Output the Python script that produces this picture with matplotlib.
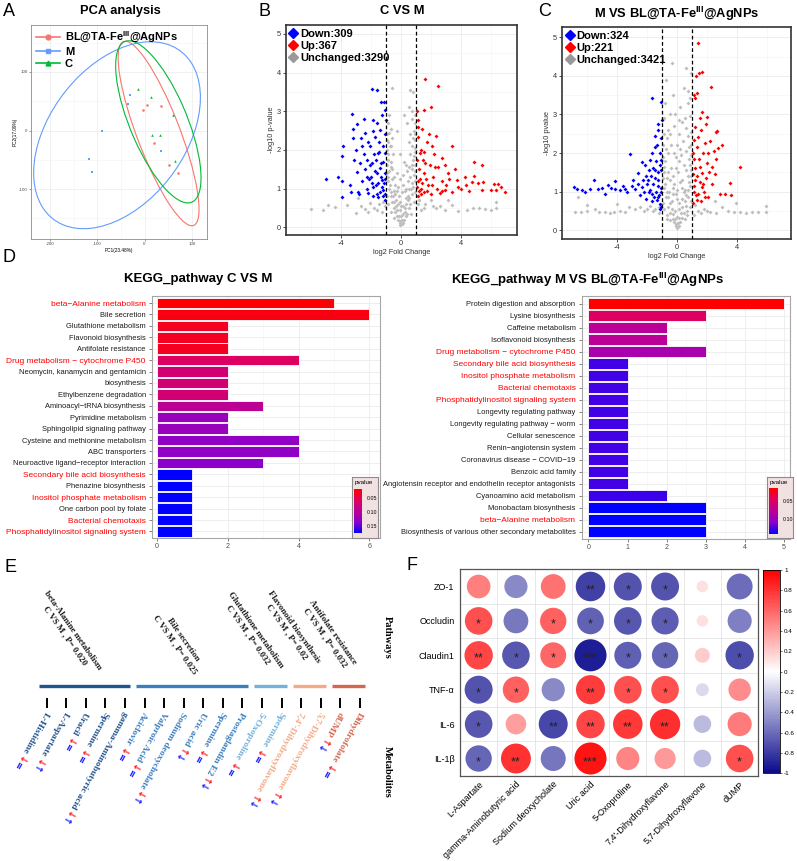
import numpy as np
import matplotlib
matplotlib.use('Agg')
import matplotlib.pyplot as plt
from matplotlib.colors import LinearSegmentedColormap, Normalize
from matplotlib.lines import Line2D
from matplotlib.patches import Ellipse
from matplotlib.ticker import FormatStrFormatter
import matplotlib.cm as cm

plt.rcParams['font.family'] = ['Liberation Sans', 'DejaVu Sans']
plt.rcParams['mathtext.fontset'] = 'custom'
plt.rcParams['mathtext.bf'] = 'Liberation Sans:bold'
plt.rcParams['mathtext.rm'] = 'Liberation Sans'
plt.rcParams['axes.unicode_minus'] = False

# ---------------- A: PCA ----------------
pca_groups = [r'BL@TA-Fe$^{\mathbf{III}}$@AgNPs', 'M', 'C']
pca_x = [[5, -4, 34, 20, 52, 71],
         [-30, -34, -90, -118, -111, 34],
         [-13, 14, 61, 15, 33, 65]]
pca_y = [[44, 35, 42, -21, -58, -72],
         [61, 46, 0, -49, -71, -35],
         [71, 58, 27, -8, -7, -52]]

# ---------------- B / C: volcano ----------------
b_blue = [(-4.98, 1.24), (-4.22, 1.31), (-3.96, 1.20), (-3.96, 0.79), (-3.89, 2.10), (-3.91, 1.83),
          (-3.29, 2.93), (-3.22, 2.54), (-2.96, 2.67), (-3.18, 2.30), (-3.11, 1.74), (-2.96, 1.44),
          (-3.31, 0.91), (-2.84, 0.92), (-2.44, 2.81), (-2.40, 2.43), (-1.96, 3.58), (-1.62, 3.55),
          (-1.33, 3.25), (-1.13, 3.25), (-1.07, 3.03), (-1.00, 2.78), (-1.84, 2.78), (-1.73, 2.34),
          (-2.07, 2.09), (-1.51, 1.91), (-1.96, 1.66), (-2.29, 1.31), (-1.62, 1.40), (-1.29, 1.22),
          (-1.84, 1.05), (-1.18, 0.97), (-1.51, 0.79), (-1.07, 0.71), (-2.18, 0.88), (-2.73, 1.66),
          (-2.62, 2.09), (-1.40, 2.52), (-1.07, 1.91), (-1.40, 1.53), (-2.50, 1.90), (-2.20, 2.20),
          (-1.90, 2.50), (-1.60, 2.70), (-1.20, 2.10), (-2.60, 1.20), (-2.30, 1.00), (-2.00, 1.30),
          (-1.70, 1.10), (-1.40, 0.90), (-1.10, 1.40), (-1.20, 1.70), (-1.50, 2.20), (-1.80, 1.90),
          (-2.10, 1.60), (-2.40, 1.50), (-2.70, 2.30), (-3.00, 2.00), (-1.30, 2.90), (-1.10, 2.40),
          (-1.25, 1.05), (-1.60, 0.85), (-1.90, 0.80), (-2.80, 0.85), (-3.40, 1.10), (-1.15, 1.15),
          (-1.35, 1.30), (-1.55, 1.15), (-1.75, 1.45), (-2.25, 1.75), (-1.05, 0.85), (-1.45, 1.95),
          (-1.20, 0.80), (-1.35, 1.65), (-1.65, 1.75), (-1.95, 1.15), (-2.15, 1.25), (-1.05, 1.25)]
b_red = [(1.60, 3.83), (2.44, 3.64), (1.04, 3.00), (1.56, 3.03), (1.98, 3.10), (1.10, 2.78),
         (1.40, 2.55), (1.16, 2.34), (1.27, 1.91), (1.60, 1.66), (2.04, 2.09), (2.71, 1.78),
         (3.38, 2.09), (2.49, 1.57), (3.16, 1.40), (3.71, 1.22), (3.82, 1.05), (2.93, 0.97),
         (4.87, 1.68), (5.38, 1.61), (4.27, 1.31), (4.89, 1.33), (4.76, 1.16), (5.11, 1.14),
         (5.49, 1.16), (4.31, 1.09), (6.22, 1.11), (6.49, 1.11), (6.67, 1.05), (6.93, 0.92),
         (6.33, 0.97), (6.00, 0.97), (5.38, 0.97), (4.50, 0.95), (1.10, 1.20), (1.30, 1.00),
         (1.50, 0.90), (1.80, 1.10), (2.10, 1.30), (2.40, 1.00), (2.70, 1.20), (3.00, 1.10),
         (3.40, 0.90), (1.20, 1.50), (1.50, 1.40), (1.90, 1.60), (2.20, 1.90), (1.70, 2.20),
         (1.30, 2.00), (1.05, 1.75), (2.00, 0.85), (2.60, 0.88), (3.60, 1.50), (4.00, 1.00),
         (1.15, 0.80), (1.45, 1.75), (1.85, 2.40), (2.90, 1.60), (2.30, 2.35), (1.10, 2.60),
         (1.25, 1.25), (1.65, 1.25), (2.25, 1.55), (1.35, 0.85), (3.20, 1.25), (2.75, 0.95),
         (1.05, 1.05), (1.40, 1.15), (1.75, 0.95), (2.05, 1.10), (1.55, 1.95), (1.20, 0.95)]
b_grey = [(-6.0, 0.47), (-5.2, 0.45), (-4.9, 0.58), (-4.4, 0.52), (-3.6, 0.58), (-3.0, 0.38),
          (-2.7, 0.55), (-2.4, 0.48), (-2.1, 0.62), (-1.8, 0.50), (-1.5, 0.60), (-1.3, 0.40),
          (1.3, 0.45), (1.6, 0.60), (2.0, 0.70), (2.3, 0.50), (2.6, 0.55), (2.9, 0.45),
          (3.4, 0.58), (3.8, 0.43), (4.4, 0.45), (4.8, 0.50), (5.2, 0.49), (5.6, 0.47),
          (6.0, 0.45), (6.3, 0.49), (6.3, 0.66), (-2.9, 0.75), (3.1, 0.70), (-1.1, 0.55),
          (1.1, 0.60), (-0.05, 0.05), (0.05, 0.08), (-0.10, 0.10), (0.10, 0.12), (-0.20, 0.20),
          (0.20, 0.20), (-0.30, 0.30), (0.30, 0.30), (-0.40, 0.40), (0.40, 0.35), (0.00, 0.30),
          (-0.50, 0.50), (0.50, 0.50), (-0.10, 0.45), (0.15, 0.55), (-0.60, 0.65), (0.60, 0.60),
          (-0.35, 0.70), (0.30, 0.75), (-0.70, 0.80), (0.70, 0.85), (-0.50, 0.95), (0.50, 1.00),
          (-0.80, 1.00), (0.80, 1.05), (-0.90, 1.20), (0.90, 1.20), (-0.60, 1.25), (0.60, 1.30),
          (-0.80, 1.45), (0.75, 1.50), (-0.95, 1.60), (0.95, 1.60), (-0.70, 1.70), (0.80, 1.75),
          (-0.90, 1.90), (0.90, 1.95), (-0.75, 2.10), (0.70, 2.10), (-0.95, 2.25), (0.95, 2.25),
          (-0.80, 2.45), (0.85, 2.50), (0.60, 2.40), (-0.60, 2.30), (-0.90, 2.70), (0.40, 2.70),
          (0.20, 2.90), (0.50, 3.10), (0.75, 3.00), (0.80, 3.50), (0.60, 3.55), (-0.58, 3.60),
          (-0.30, 2.50), (-0.10, 1.90), (0.20, 1.70), (-0.25, 1.40), (0.10, 1.10), (-0.15, 0.80),
          (0.25, 0.95), (-0.40, 1.10), (0.40, 1.45), (-0.20, 0.60), (0.25, 0.40), (-0.45, 0.25),
          (0.45, 0.70), (-0.65, 0.40), (0.65, 0.35), (-0.85, 0.60), (0.85, 0.65), (-0.30, 0.95),
          (-0.05, 0.15), (0.05, 0.20), (-0.15, 0.30), (0.15, 0.35), (-0.25, 0.45), (0.25, 0.50),
          (-0.35, 0.55), (0.35, 0.60), (-0.45, 0.65), (0.45, 0.80), (-0.55, 0.80), (0.55, 0.75),
          (-0.65, 0.90), (0.65, 1.00), (-0.75, 1.10), (0.75, 1.15), (-0.85, 1.30), (0.85, 1.35),
          (-0.70, 1.55), (0.70, 1.60), (-0.85, 1.75), (0.85, 1.85), (-0.95, 2.00), (0.95, 2.05),
          (-0.85, 2.20), (0.80, 2.30), (-0.95, 2.40), (0.90, 2.40), (-0.70, 2.55), (0.95, 2.70),
          (0.70, 2.80), (0.90, 2.90), (-0.80, 2.90), (-0.60, 1.50), (0.55, 1.55), (-0.50, 1.30),
          (0.45, 1.20), (-0.40, 0.85), (0.35, 1.00), (-0.05, 0.65), (0.05, 0.90), (0.00, 0.55),
          (-0.55, 1.90), (0.60, 1.90), (-0.65, 2.10), (0.50, 2.20), (-0.95, 1.40), (0.95, 1.45),
          (-0.95, 0.80), (0.95, 0.90), (-1.20, 0.65), (1.20, 0.70), (-1.60, 0.45), (1.50, 0.50),
          (-2.20, 0.40), (2.10, 0.55), (-0.20, 1.05), (0.15, 1.35), (-0.10, 1.25), (0.30, 1.60)]

c_blue = [(-6.87, 1.13), (-6.69, 1.08), (-6.36, 1.04), (-6.13, 0.99), (-5.80, 1.08), (-5.51, 1.30),
          (-5.24, 1.08), (-4.80, 0.95), (-4.58, 1.17), (-4.13, 1.28), (-4.13, 1.08), (-3.80, 1.04),
          (-3.47, 1.08), (-3.36, 0.99), (-3.11, 1.97), (-2.80, 1.08), (-2.91, 1.30), (-2.58, 1.47),
          (-2.31, 1.77), (-2.13, 1.69), (-1.64, 3.42), (-1.07, 3.33), (-1.47, 2.16), (-1.24, 2.60),
          (-1.02, 2.86), (-1.91, 1.30), (-1.69, 0.95), (-1.36, 0.78), (-1.13, 0.69), (-2.36, 1.13),
          (-1.47, 1.56), (-1.80, 1.82), (-1.24, 1.30), (-1.07, 1.82), (-2.20, 1.00), (-2.00, 1.20),
          (-1.80, 1.05), (-1.60, 1.20), (-1.40, 1.00), (-1.20, 0.90), (-1.10, 1.10), (-1.30, 1.50),
          (-1.60, 1.60), (-1.90, 1.55), (-2.10, 1.40), (-1.70, 2.00), (-1.35, 2.20), (-1.10, 2.40),
          (-1.15, 2.00), (-1.50, 2.45), (-1.25, 2.75), (-1.05, 1.55), (-2.60, 1.20), (-3.00, 1.15),
          (-4.40, 1.10), (-5.00, 1.10), (-2.45, 0.90), (-1.55, 0.85), (-1.05, 0.60), (-3.60, 1.15),
          (-1.25, 1.15), (-1.45, 1.35), (-1.75, 1.40), (-2.25, 1.30), (-1.15, 1.70), (-1.65, 0.75),
          (-1.05, 1.00), (-1.30, 0.85), (-1.90, 1.00), (-2.05, 0.80), (-1.15, 0.55), (-1.40, 1.80)]
c_red = [(1.38, 4.85), (1.47, 4.07), (1.64, 4.11), (1.25, 4.00), (2.27, 3.72), (1.16, 3.51),
         (1.20, 3.42), (1.35, 3.55), (1.69, 3.07), (2.00, 2.94), (2.62, 2.55), (2.68, 2.57),
         (2.98, 2.21), (2.76, 2.12), (4.20, 1.65), (2.87, 0.95), (3.20, 0.95), (3.60, 0.91),
         (3.53, 1.21), (2.31, 1.65), (2.09, 1.99), (1.87, 2.25), (1.42, 2.42), (1.20, 2.68),
         (1.09, 1.99), (1.20, 1.30), (1.64, 1.13), (2.09, 0.87), (1.31, 0.78), (1.64, 1.47),
         (1.98, 1.73), (1.10, 1.00), (1.40, 0.95), (1.80, 1.00), (1.50, 1.25), (1.90, 1.35),
         (2.30, 1.20), (1.20, 1.60), (1.45, 1.85), (1.75, 2.00), (2.20, 2.30), (1.30, 2.15),
         (1.60, 2.60), (1.10, 2.35), (2.50, 1.45), (2.60, 1.85), (1.05, 0.70), (1.60, 0.75),
         (1.95, 2.75), (1.50, 2.90), (2.45, 2.05), (1.15, 1.15), (1.35, 1.40), (1.75, 1.20),
         (1.05, 1.45), (1.25, 0.90), (1.85, 0.85), (2.15, 1.50), (1.55, 1.65), (1.15, 1.85)]
c_grey = [(-6.8, 0.47), (-6.4, 0.48), (-6.0, 0.50), (-5.5, 0.55), (-5.2, 0.47), (-4.8, 0.48),
          (-4.5, 0.45), (-4.2, 0.46), (-3.8, 0.50), (-3.5, 0.48), (-3.2, 0.60), (-2.8, 0.55),
          (-2.5, 0.60), (-6.6, 0.85), (-6.0, 0.65), (-4.0, 0.68), (-2.2, 0.50), (-1.8, 0.62),
          (-1.5, 0.55), (1.4, 0.50), (1.8, 0.55), (2.2, 0.48), (2.6, 0.45), (3.0, 0.60),
          (3.4, 0.50), (3.8, 0.47), (4.2, 0.46), (4.6, 0.45), (5.0, 0.47), (5.4, 0.46),
          (5.9, 0.47), (5.9, 0.62), (3.9, 0.70), (2.5, 0.75), (-1.2, 0.45), (1.15, 0.40),
          (0.00, 0.05), (-0.10, 0.12), (0.10, 0.10), (-0.20, 0.20), (0.20, 0.22), (-0.30, 0.30),
          (0.30, 0.32), (0.00, 0.35), (-0.45, 0.45), (0.45, 0.45), (-0.15, 0.50), (0.15, 0.55),
          (-0.60, 0.60), (0.60, 0.62), (-0.35, 0.75), (0.35, 0.80), (-0.75, 0.85), (0.75, 0.85),
          (-0.55, 1.00), (0.50, 1.05), (-0.85, 1.10), (0.85, 1.15), (-0.20, 1.20), (0.20, 1.25),
          (-0.70, 1.35), (0.70, 1.40), (-0.90, 1.50), (0.90, 1.55), (-0.40, 1.60), (0.45, 1.70),
          (-0.80, 1.80), (0.80, 1.85), (-0.60, 2.00), (0.60, 2.05), (-0.95, 2.20), (0.95, 2.20),
          (-0.70, 2.40), (0.75, 2.45), (0.10, 2.50), (-0.20, 2.70), (0.30, 2.80), (-0.90, 2.90),
          (0.85, 2.95), (0.10, 2.86), (-0.50, 3.00), (0.76, 3.29), (0.87, 3.42), (-0.76, 3.90),
          (-0.36, 4.33), (0.58, 4.20), (0.93, 4.07), (0.45, 3.70), (-0.30, 3.50), (-0.05, 1.90),
          (0.05, 1.50), (-0.25, 0.95), (0.25, 1.95), (-0.50, 0.25), (0.50, 0.28), (-0.65, 0.40),
          (0.65, 0.38), (-0.85, 0.55), (0.85, 0.60), (-0.30, 1.40), (0.30, 1.10), (-0.50, 2.50),
          (-0.05, 0.15), (0.05, 0.18), (-0.15, 0.28), (0.15, 0.32), (-0.25, 0.42), (0.25, 0.45),
          (-0.35, 0.55), (0.35, 0.60), (-0.50, 0.70), (0.50, 0.75), (-0.60, 0.85), (0.60, 0.90),
          (-0.70, 1.00), (0.70, 1.05), (-0.80, 1.20), (0.80, 1.25), (-0.95, 1.35), (0.90, 1.40),
          (-0.60, 1.50), (0.60, 1.55), (-0.85, 1.65), (0.85, 1.70), (-0.95, 1.90), (0.95, 1.95),
          (-0.75, 2.10), (0.80, 2.15), (-0.90, 2.50), (0.90, 2.55), (-0.60, 2.60), (0.60, 2.65),
          (-0.40, 2.20), (0.40, 2.30), (-0.20, 2.00), (0.20, 2.10), (0.00, 2.20), (-0.10, 1.60),
          (0.10, 1.80), (-0.30, 1.10), (0.30, 1.30), (0.00, 0.80), (-0.10, 0.95), (0.10, 0.70),
          (-0.45, 1.30), (0.45, 1.00), (-0.95, 0.70), (0.95, 0.75), (-1.20, 0.60), (1.20, 0.65),
          (-1.60, 0.50), (1.60, 0.45), (-2.00, 0.55), (2.00, 0.50), (-0.80, 3.30), (0.70, 3.60),
          (0.20, 3.20), (-0.15, 3.00), (0.50, 2.90), (-0.65, 0.30), (0.65, 0.50), (0.00, 1.05)]
b_counts = ['Down:309', 'Up:367', 'Unchanged:3290']
c_counts = ['Down:324', 'Up:221', 'Unchanged:3421']

# ---------------- D: KEGG ----------------
kegg1_terms = ['beta\u2212Alanine metabolism', 'Bile secretion', 'Glutathione metabolism',
               'Flavonoid biosynthesis', 'Antifolate resistance',
               'Drug metabolism \u2212 cytochrome P450', 'Neomycin, kanamycin and gentamicin',
               'biosynthesis', 'Ethylbenzene degradation', 'Aminoacyl\u2212tRNA biosynthesis',
               'Pyrimidine metabolism', 'Sphingolipid signaling pathway',
               'Cysteine and methionine metabolism', 'ABC transporters',
               'Neuroactive ligand\u2212receptor interaction', 'Secondary bile acid biosynthesis',
               'Phenazine biosynthesis', 'Inositol phosphate metabolism', 'One carbon pool by folate',
               'Bacterial chemotaxis', 'Phosphatidylinositol signaling system']
kegg1_counts = [5, 6, 2, 2, 2, 4, 2, 2, 2, 3, 2, 2, 4, 4, 3, 1, 1, 1, 1, 1, 1]
kegg1_p = [0.020, 0.025, 0.032, 0.032, 0.032, 0.058, 0.072, 0.072, 0.072, 0.095, 0.125,
           0.125, 0.132, 0.132, 0.135, 0.175, 0.175, 0.175, 0.175, 0.175, 0.175]
kegg2_terms = ['Protein digestion and absorption', 'Lysine biosynthesis', 'Caffeine metabolism',
               'Isoflavonoid biosynthesis', 'Drug metabolism \u2212 cytochrome P450',
               'Secondary bile acid biosynthesis', 'Inositol phosphate metabolism',
               'Bacterial chemotaxis', 'Phosphatidylinositol signaling system',
               'Longevity regulating pathway', 'Longevity regulating pathway \u2212 worm',
               'Cellular senescence', 'Renin\u2212angiotensin system',
               'Coronavirus disease \u2212 COVID\u221219', 'Benzoic acid family',
               'Angiotensin receptor and endothelin receptor antagonists',
               'Cyanoamino acid metabolism', 'Monobactam biosynthesis',
               'beta\u2212Alanine metabolism', 'Biosynthesis of various other secondary metabolites']
kegg2_counts = [5, 3, 2, 2, 3, 1, 1, 1, 1, 1, 1, 1, 1, 1, 1, 1, 2, 3, 3, 3]
kegg2_p = [0.015, 0.047, 0.078, 0.078, 0.091, 0.126, 0.126, 0.126, 0.126, 0.126, 0.126,
           0.126, 0.126, 0.126, 0.126, 0.126, 0.128, 0.141, 0.141, 0.141]
kegg_highlight = ['beta\u2212Alanine metabolism', 'Drug metabolism \u2212 cytochrome P450',
                  'Secondary bile acid biosynthesis', 'Inositol phosphate metabolism',
                  'Bacterial chemotaxis', 'Phosphatidylinositol signaling system']

# ---------------- E: pathways / metabolites ----------------
pathways = ['beta-Alanine metabolism', 'Bile secretion', 'Glutathione metabolism',
            'Flavonoid biosynthesis', 'Antifolate resistance']
pathway_p = ['0.020', '0.025', '0.032', '0.02', '0.032']
pathway_span = [(0, 4), (5, 10), (11, 12), (13, 14), (15, 16)]
pathway_colors = ['#23548F', '#3B7FBE', '#74B2DA', '#F4AA88', '#D6674F']
metabolites = ['L-Histidine', 'L-Aspartate', 'Uracil', 'Spermine', 'gamma-Aminobutyric acid',
               'Aciclovir', 'Valproic Acid', 'Sodium deoxycholate', 'Uric acid', 'Spermine',
               'Prostaglandin E2', '5-Oxoproline', 'Spermine', "7,4'-Dihydroxyflavone",
               '5,7-Dihydroxyflavone', 'dUMP', 'Dihydrofolate']
change_cm = ['\u2193', '\u2193', '\u2193', '\u2193', '\u2193', '\u2193', '\u2193', '\u2193', '\u2191',
             '\u2193', '\u2191', '\u2193', '\u2193', '\u2191', '\u2191', '\u2191', '\u2193']
change_mbl = ['=', '\u2191', '=', '=', '\u2191', '=', '=', '\u2191', '\u2193',
              '=', '\u2193', '=', '=', '\u2193', '\u2193', '\u2193', '=']

# ---------------- F: correlation ----------------
markers_f = ['ZO-1', 'Occludin', 'Claudin1', 'TNF-\u03b1', 'IL-6', 'IL-1\u03b2']
metab_f = ['L-Aspartate', 'gamma-Aminobutyric acid', 'Sodium deoxycholate', 'Uric acid',
           '5-Oxoproline', "7,4'-Dihydroxyflavone", '5,7-Dihydroxyflavone', 'dUMP']
corr_vals = [[0.50, -0.48, 0.55, -0.78, -0.70, -0.70, 0.12, -0.60],
             [0.68, -0.55, 0.62, -0.64, -0.68, -0.66, 0.12, -0.52],
             [0.72, -0.68, 0.60, -0.92, -0.65, -0.62, 0.20, -0.72],
             [-0.70, 0.62, -0.48, 0.76, 0.68, 0.68, -0.15, 0.45],
             [-0.68, 0.38, -0.75, 0.72, 0.78, 0.82, -0.28, 0.52],
             [-0.62, 0.80, -0.56, 0.92, 0.48, 0.40, -0.28, 0.68]]
corr_sig = [['', '', '', '**', '*', '*', '', ''],
            ['*', '', '*', '*', '*', '*', '', ''],
            ['**', '*', '*', '***', '*', '*', '', '*'],
            ['*', '*', '', '**', '*', '*', '', ''],
            ['*', '', '**', '**', '**', '**', '', ''],
            ['*', '**', '', '***', '', '', '', '*']]

# =====================================================
W, H = 797.0, 861.0
fig = plt.figure(figsize=(W / 100, H / 100), dpi=100)


def px_axes(l, t, r, b):
    return fig.add_axes([l / W, 1 - b / H, (r - l) / W, (b - t) / H])


def px_text(x, y, s, **kw):
    return fig.text(x / W, 1 - y / H, s, **kw)


for letter, (x, y) in zip('ABCDEF', [(3, 11), (259, 11), (538, 12), (3, 257), (4, 567), (406, 565)]):
    px_text(x, y, letter, fontsize=13, ha='left', va='center')

# ---- A ----
axA = px_axes(31, 25, 207, 239)
pca_colors = ['#F8766D', '#619CFF', '#00BA38']
pca_markers = ['o', 's', '^']
for gx, gy, col, mk in zip(pca_x, pca_y, pca_colors, pca_markers):
    gx, gy = np.array(gx, float), np.array(gy, float)
    axA.scatter(gx, gy, s=3.5, marker=mk, color=col, linewidths=0, zorder=3)
    vals, vecs = np.linalg.eigh(np.cov(gx, gy))
    ang = np.degrees(np.arctan2(vecs[1, 1], vecs[0, 1]))
    axA.add_patch(Ellipse((gx.mean(), gy.mean()), 2 * 3.0 * np.sqrt(vals[1]), 2 * 3.0 * np.sqrt(vals[0]),
                          angle=ang, fill=False, edgecolor=col, lw=0.8, zorder=2))
axA.set_xlim(-240, 132)
axA.set_ylim(-185, 180)
axA.set_xticks([-200, -100, 0, 100])
axA.set_xticks([-150, -50, 50], minor=True)
axA.set_yticks([-100, 0, 100])
axA.set_yticks([-150, -50, 50, 150], minor=True)
axA.grid(which='major', color='#EBEBEB', lw=0.5)
axA.grid(which='minor', color='#F4F4F4', lw=0.4)
axA.set_axisbelow(True)
axA.tick_params(which='minor', length=0)
axA.tick_params(labelsize=3.2, colors='#4D4D4D', length=1.5, width=0.4, pad=1)
for s in axA.spines.values():
    s.set_color('#8C8C8C')
    s.set_linewidth(0.6)
axA.set_xlabel('PC1(23.48%)', fontsize=3.4, labelpad=1)
axA.set_ylabel('PC2(17.09%)', fontsize=3.4, labelpad=1)
hA = [Line2D([], [], color=c, marker=m, ms=3.5, lw=1.2) for c, m in zip(pca_colors, pca_markers)]
axA.legend(hA, pca_groups, loc='upper left', frameon=False, prop={'weight': 'bold', 'size': 8},
           handlelength=2.2, handletextpad=0.4, labelspacing=0.18, borderaxespad=0.15, borderpad=0.3)
px_text(120, 11, 'PCA analysis', fontsize=9.3, fontweight='bold', ha='center', va='center')


# ---- B / C ----
def volcano(ax, grey, blue, red, counts, ylab):
    for pts, col in ((grey, '#BEBEBE'), (blue, '#0000FF'), (red, '#FF0000')):
        pts = np.asarray(pts)
        ax.scatter(pts[:, 0], pts[:, 1], s=4, marker='D', color=col, linewidths=0, zorder=3)
    for v in (-1, 1):
        ax.axvline(v, color='black', ls=(0, (3, 2)), lw=0.9, zorder=4)
    ax.set_xticks([-4, 0, 4])
    ax.set_xticks([-6, -2, 2, 6], minor=True)
    ax.set_yticks(range(6))
    ax.set_yticks(np.arange(0.5, 5.5, 1), minor=True)
    ax.grid(which='major', color='#EBEBEB', lw=0.6)
    ax.grid(which='minor', color='#F4F4F4', lw=0.4)
    ax.set_axisbelow(True)
    ax.tick_params(which='minor', length=0)
    ax.tick_params(labelsize=5.3, colors='#333333', length=2, width=0.6, pad=1.5)
    for s in ax.spines.values():
        s.set_color('#333333')
        s.set_linewidth(1.2)
    ax.set_xlabel('log2 Fold Change', fontsize=5.3, labelpad=1.5, color='#333333')
    ax.set_ylabel(ylab, fontsize=5.3, labelpad=1.5, color='#333333')
    hh = [Line2D([], [], ls='none', marker='D', ms=5, color=c) for c in ('#0000FF', '#FF0000', '#999999')]
    ax.legend(hh, counts, loc='upper left', frameon=False, prop={'weight': 'bold', 'size': 8},
              handlelength=0.7, handletextpad=0.25, labelspacing=0.18, borderaxespad=0.15, borderpad=0.2)


axB = px_axes(285.7, 25, 517, 235)
volcano(axB, b_grey, b_blue, b_red, b_counts, '-log10 p-value')
axB.set_xlim(-7.69, 7.73)
axB.set_ylim(-0.2, 5.23)
px_text(402, 11, 'C VS M', fontsize=9.3, fontweight='bold', ha='center', va='center')

axC = px_axes(562, 27, 791, 239)
volcano(axC, c_grey, c_blue, c_red, c_counts, '-log10 pvalue')
axC.set_xlim(-7.67, 7.6)
axC.set_ylim(-0.23, 5.27)
px_text(677, 14, r'M VS BL@TA-Fe$^{\mathbf{III}}$@AgNPs', fontsize=9.3, fontweight='bold',
        ha='center', va='center')

# ---- D ----
kegg_cmap = LinearSegmentedColormap.from_list(
    'kegg', ['#FF0000', '#DE005F', '#BA0096', '#8C00CA', '#0000FF'])


def kegg(ax, terms, counts, pvals, pmin, pmax, xmax):
    ys = np.arange(len(terms))
    norm = Normalize(pmin, pmax)
    ax.barh(ys, counts, height=0.92, color=kegg_cmap(norm(np.array(pvals))),
            edgecolor='white', linewidth=0.6, zorder=3)
    ax.set_ylim(len(terms) - 1 + 0.6, -0.64)
    ax.set_yticks(ys)
    ax.set_yticklabels(terms)
    for t, term in zip(ax.get_yticklabels(), terms):
        if term in kegg_highlight:
            t.set_color('#FF0000')
            t.set_fontsize(6.0)
        else:
            t.set_color('#1A1A1A')
            t.set_fontsize(5.4)
    ax.set_xticks(np.arange(0, xmax + 1, 1 if xmax == 5 else 2))
    ax.xaxis.set_minor_locator(matplotlib.ticker.MultipleLocator(0.5 if xmax == 5 else 1))
    ax.grid(axis='x', which='major', color='#EBEBEB', lw=0.6)
    ax.grid(axis='x', which='minor', color='#F4F4F4', lw=0.4)
    ax.grid(axis='y', which='major', color='#EBEBEB', lw=0.6)
    ax.set_axisbelow(True)
    ax.tick_params(which='minor', length=0)
    ax.tick_params(axis='x', labelsize=5, colors='#4D4D4D', length=2, width=0.5, pad=1.5)
    ax.tick_params(axis='y', length=2, width=0.5, color='#4D4D4D', pad=2.5)
    for s in ax.spines.values():
        s.set_color('#A6A6A6')
        s.set_linewidth(0.8)


def kegg_legend(box, bar, pmin, pmax):
    bg = px_axes(*box)
    bg.set_xticks([])
    bg.set_yticks([])
    bg.set_facecolor('#F2E1E1')
    for s in bg.spines.values():
        s.set_color('#8C8C8C')
        s.set_linewidth(0.8)
    bg.text(0.1, 0.95, 'pvalue', fontsize=4.5, transform=bg.transAxes, va='top', ha='left')
    cax = px_axes(*bar)
    cb = fig.colorbar(cm.ScalarMappable(norm=Normalize(pmin, pmax), cmap=kegg_cmap), cax=cax,
                      ticks=[0.05, 0.10, 0.15])
    cax.invert_yaxis()
    cb.ax.yaxis.set_major_formatter(FormatStrFormatter('%.2f'))
    cb.ax.tick_params(labelsize=3.8, length=1.5, width=0.4, color='white', pad=2)
    cb.outline.set_visible(False)


axD1 = px_axes(152, 295.7, 380, 538.3)
kegg(axD1, kegg1_terms, kegg1_counts, kegg1_p, 0.018, 0.175, 6)
axD1.set_xlim(-0.14, 6.3)
kegg_legend((352, 477, 378, 538), (353.5, 489, 361.7, 533.3), 0.018, 0.175)
px_text(198, 279, 'KEGG_pathway C VS M', fontsize=9.5, fontweight='bold', ha='center', va='center')

axD2 = px_axes(581.7, 296, 790, 539)
kegg(axD2, kegg2_terms, kegg2_counts, kegg2_p, 0.015, 0.141, 5)
axD2.set_xlim(-0.17, 5.15)
kegg_legend((767, 477, 793, 538), (768.5, 488, 777.7, 534), 0.015, 0.141)
px_text(588, 280, r'KEGG_pathway M VS BL@TA-Fe$^{\mathbf{III}}$@AgNPs', fontsize=9.5,
        fontweight='bold', ha='center', va='center')

# ---- E ----
axE = px_axes(0, 575, 397, 861)
axE.set_xlim(-2.39, 17.9)
axE.set_ylim(0, 1)
axE.axis('off')
n_met = len(metabolites)
idx = np.arange(n_met)
axE.annotate('', xy=(17.95, 0.553), xytext=(-0.7, 0.553),
             arrowprops=dict(arrowstyle='-|>,head_length=0.7,head_width=0.32', lw=2.2,
                             color='black', shrinkA=0, shrinkB=0))
axE.vlines(idx, 0.535, 0.571, color='black', lw=1.4)
label_pos = [(1.14, 0.797), (6.76, 0.765), (10.49, 0.80), (12.43, 0.81), (14.42, 0.79)]
serif = ['Liberation Serif', 'DejaVu Serif']
met_color = [None] * n_met
for name, p, (a, b), col, (lx, ly) in zip(pathways, pathway_p, pathway_span, pathway_colors, label_pos):
    axE.hlines(0.612, a - 0.42, b + 0.27, color=col, lw=2.4)
    axE.text(lx, ly, f'{name}\nC VS M , P= {p}', rotation=-55, rotation_mode='anchor',
             ha='center', va='center', ma='center', fontsize=6.4, fontweight='bold',
             family=serif, color='#1A1A1A', linespacing=1.15)
    for k in range(a, b + 1):
        met_color[k] = col
axE.text(17.43, 0.783, 'Pathways', rotation=-90, ha='center', va='center', fontsize=7.5,
         fontweight='bold', family=serif)
axE.text(17.43, 0.311, 'Metabolites', rotation=-90, ha='center', va='center', fontsize=7.5,
         fontweight='bold', family=serif)

renderer = fig.canvas.get_renderer()
rot = -119
ca, sa = np.cos(np.radians(rot)), np.sin(np.radians(rot))
for i, name in enumerate(metabolites):
    axE.text(i, 0.52, name, rotation=rot, rotation_mode='anchor', ha='left', va='center',
             fontsize=6.8, fontweight='bold', family=serif, color=met_color[i])
    tmp = axE.text(0, 0, name, fontsize=6.8, fontweight='bold', family=serif)
    w = tmp.get_window_extent(renderer).width
    tmp.remove()
    for glyph, col, extra in ((change_cm[i], '#FF2020', 3), (change_mbl[i], '#2020FF', 10)):
        d = (w + extra) * 72 / fig.dpi
        axE.annotate(glyph, xy=(i, 0.52), xytext=(d * ca, d * sa), textcoords='offset points',
                     rotation=rot, rotation_mode='anchor', ha='left', va='center',
                     fontsize=7, fontweight='bold', family=['DejaVu Sans'], color=col)

# ---- F ----
corr_cmap = LinearSegmentedColormap.from_list('corr', ['#0A0A8C', '#FFFFFF', '#FF0000'])
axF = px_axes(460, 569.3, 758.3, 775.7)
corr = np.array(corr_vals)
rows, cols = np.indices(corr.shape)
axF.scatter(cols.ravel(), rows.ravel(), s=580 * np.abs(corr).ravel(), c=corr.ravel(),
            cmap=corr_cmap, vmin=-1, vmax=1, linewidths=0, zorder=3)
for r in range(corr.shape[0]):
    for c in range(corr.shape[1]):
        if corr_sig[r][c]:
            axF.text(c, r + 0.1, corr_sig[r][c], ha='center', va='center', fontsize=9,
                     color='#222222', zorder=4)
axF.set_xlim(-0.5, len(metab_f) - 0.5)
axF.set_ylim(len(markers_f) - 0.5, -0.5)
axF.set_xticks(range(len(metab_f)))
axF.set_xticklabels(metab_f, rotation=45, ha='right', va='top', rotation_mode='anchor', fontsize=6.5)
axF.set_yticks(range(len(markers_f)))
axF.set_yticklabels(markers_f, fontsize=6.5)
axF.set_xticks(np.arange(-0.5, len(metab_f), 1), minor=True)
axF.set_yticks(np.arange(-0.5, len(markers_f), 1), minor=True)
axF.grid(which='minor', color='#E3E3E3', lw=0.6)
axF.set_axisbelow(True)
axF.tick_params(which='both', length=0)
axF.tick_params(axis='y', pad=4)
axF.tick_params(axis='x', pad=3)
for s in axF.spines.values():
    s.set_color('#555555')
    s.set_linewidth(0.9)

caxF = px_axes(763.3, 570, 780, 773.3)
cbF = fig.colorbar(cm.ScalarMappable(norm=Normalize(-1, 1), cmap=corr_cmap), cax=caxF,
                   ticks=np.linspace(-1, 1, 11))
cbF.ax.set_yticklabels(['-1', '-0.8', '-0.6', '-0.4', '-0.2', '0', '0.2', '0.4', '0.6', '0.8', '1'])
cbF.ax.tick_params(labelsize=4.5, length=1.5, width=0.4, pad=1.5)
cbF.outline.set_linewidth(0.6)

fig.savefig('out.png', dpi=100)
